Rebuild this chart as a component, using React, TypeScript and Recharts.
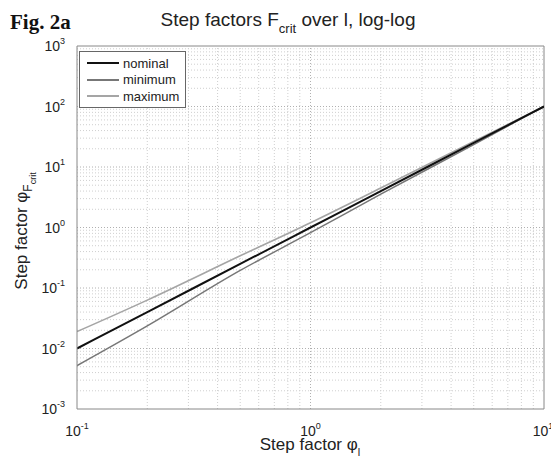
import { LineChart, Line, XAxis, YAxis, ReferenceLine } from 'recharts'

const stepL = [0.1, 0.2, 0.5, 1, 2, 5, 10]
const nominal = [0.01, 0.04, 0.25, 1, 4, 25, 100]
const minimum = [0.0052, 0.0236, 0.195, 0.82, 3.55, 23.5, 100]
const maximum = [0.019, 0.063, 0.34, 1.2, 4.5, 26.5, 100]

const xTicks = [0.1, 1, 10]
const yTicks = [0.001, 0.01, 0.1, 1, 10, 100, 1000]

const data = stepL.map((x, i) => ({ x, nominal: nominal[i], minimum: minimum[i], maximum: maximum[i] }))

const minorX: number[] = []
for (const d of [0.1, 1]) for (let k = 2; k <= 9; k++) minorX.push(+(d * k).toFixed(2))
const minorY: number[] = []
for (const d of [0.001, 0.01, 0.1, 1, 10, 100]) for (let k = 2; k <= 9; k++) minorY.push(+(d * k).toPrecision(3))

const font = 'Arial, "Liberation Sans", sans-serif'
const gridColor = '#cfcfcf'

const PowTick = ({ x, y, payload, axis }: any) => {
  const exp = Math.round(Math.log10(payload.value))
  if (axis === 'x') {
    return (
      <text x={x} y={y + 19} textAnchor="middle" fontSize={14} fontFamily={font} fill="#222">
        <tspan>10</tspan>
        <tspan dy={-7} fontSize={9}>{exp}</tspan>
      </text>
    )
  }
  return (
    <text x={x - 4} y={y + 5} textAnchor="end" fontSize={14} fontFamily={font} fill="#222">
      <tspan>10</tspan>
      <tspan dy={-7} fontSize={9}>{exp}</tspan>
    </text>
  )
}

const legendItems = [
  { name: 'nominal', color: '#111', width: 2 },
  { name: 'minimum', color: '#777', width: 1.5 },
  { name: 'maximum', color: '#a5a5a5', width: 1.6 },
]

const LegendBox = () => (
  <div
    style={{
      position: 'absolute',
      left: 79,
      top: 51,
      border: '1px solid #666',
      background: '#fff',
      padding: '3px 4px 2px 7px',
      width: 94,
    }}
  >
    {legendItems.map((it) => (
      <div key={it.name} style={{ display: 'flex', alignItems: 'center', height: 16.5 }}>
        <div style={{ width: 32, height: it.width, background: it.color, marginRight: 4 }} />
        <span style={{ fontFamily: font, fontSize: 13, color: '#222' }}>{it.name}</span>
      </div>
    ))}
  </div>
)

export default function App() {
  return (
    <div style={{ position: 'absolute', left: 0, top: 0, width: 551, height: 459, background: '#fff' }}>
      <LineChart width={551} height={459} data={data} margin={{ top: 46, right: 7, bottom: 0, left: 0 }}>
        {minorX.map((v) => (
          <ReferenceLine key={`mx${v}`} x={v} stroke={gridColor} strokeDasharray="1 2" />
        ))}
        {minorY.map((v) => (
          <ReferenceLine key={`my${v}`} y={v} stroke={gridColor} strokeDasharray="1 2" />
        ))}
        {[1].map((v) => (
          <ReferenceLine key={`Mx${v}`} x={v} stroke="#b0b0b0" strokeDasharray="1 2" />
        ))}
        {[0.01, 0.1, 1, 10, 100].map((v) => (
          <ReferenceLine key={`My${v}`} y={v} stroke="#b0b0b0" strokeDasharray="1 2" />
        ))}
        <ReferenceLine x={10} stroke="#888" />
        <ReferenceLine y={1000} stroke="#888" />
        <XAxis
          dataKey="x"
          type="number"
          scale="log"
          domain={[0.1, 10]}
          ticks={xTicks}
          allowDataOverflow
          height={50}
          stroke="#888"
          tickLine={false}
          tick={<PowTick axis="x" />}
        />
        <YAxis
          type="number"
          scale="log"
          domain={[0.001, 1000]}
          ticks={yTicks}
          allowDataOverflow
          width={77}
          stroke="#888"
          tickLine={false}
          tick={<PowTick axis="y" />}
        />
        <Line type="monotone" dataKey="maximum" stroke="#a5a5a5" strokeWidth={1.6} dot={false} isAnimationActive={false} />
        <Line type="monotone" dataKey="minimum" stroke="#777" strokeWidth={1.5} dot={false} isAnimationActive={false} />
        <Line type="monotone" dataKey="nominal" stroke="#111" strokeWidth={2} dot={false} isAnimationActive={false} />
      </LineChart>
      <LegendBox />
      <svg width={551} height={459} style={{ position: 'absolute', left: 0, top: 0, pointerEvents: 'none' }}>
        <text x={10} y={29} fontFamily='"Liberation Serif", "Times New Roman", serif' fontWeight="bold" fontSize={21} fill="#111">
          Fig. 2a
        </text>
        <text x={288} y={26} textAnchor="middle" fontFamily={font} fontSize={19} fill="#222">
          <tspan>Step factors F</tspan>
          <tspan dy={7} fontSize={13}>crit</tspan>
          <tspan dy={-7}> over l, log-log</tspan>
        </text>
        <text x={310} y={450} textAnchor="middle" fontFamily={font} fontSize={17} fill="#222">
          <tspan>Step factor φ</tspan>
          <tspan dy={6} fontSize={11}>l</tspan>
        </text>
        <text
          x={0}
          y={0}
          transform="translate(27,231) rotate(-90)"
          textAnchor="middle"
          fontFamily={font}
          fontSize={17}
          fill="#222"
        >
          <tspan>Step factor φ</tspan>
          <tspan dy={5} fontSize={12}>F</tspan>
          <tspan dy={4} fontSize={9}>crit</tspan>
        </text>
      </svg>
    </div>
  )
}
